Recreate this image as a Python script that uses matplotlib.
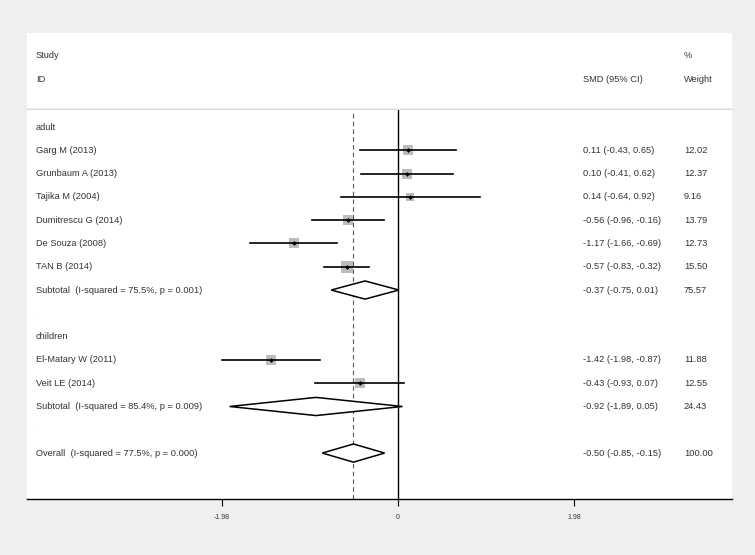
import matplotlib.pyplot as plt
from matplotlib.patches import Rectangle, Polygon
from matplotlib.lines import Line2D

plt.rcParams['font.family'] = ['Liberation Sans', 'DejaVu Sans']

# study level data
studies = ["Garg M (2013)", "Grunbaum A (2013)", "Tajika M (2004)", "Dumitrescu G (2014)",
           "De Souza (2008)", "TAN B (2014)", "El-Matary W (2011)", "Veit LE (2014)"]
smd = [0.11, 0.10, 0.14, -0.56, -1.17, -0.57, -1.42, -0.43]
ci_lo = [-0.43, -0.41, -0.64, -0.96, -1.66, -0.83, -1.98, -0.93]
ci_hi = [0.65, 0.62, 0.92, -0.16, -0.69, -0.32, -0.87, 0.07]
weights = [12.02, 12.37, 9.16, 13.79, 12.73, 15.50, 11.88, 12.55]
study_rows = [1, 2, 3, 4, 5, 6, 10, 11]

# pooled estimates
pooled_labels = ["Subtotal  (I-squared = 75.5%, p = 0.001)",
                 "Subtotal  (I-squared = 85.4%, p = 0.009)",
                 "Overall  (I-squared = 77.5%, p = 0.000)"]
pooled_smd = [-0.37, -0.92, -0.50]
pooled_lo = [-0.75, -1.89, -0.85]
pooled_hi = [0.01, 0.05, -0.15]
pooled_w = [75.57, 24.43, 100.00]
pooled_rows = [7, 12, 14]

groups = ["adult", "children"]
group_rows = [0, 9]
blank_rows = [8, 13]

xticks = [-1.98, 0, 1.98]
xticklabels = ["-1.98", "0", "1.98"]

W, H = 755, 555
fig = plt.figure(figsize=(7.55, 5.55), dpi=100, facecolor='#efefef')

# white header panel
hdr = Rectangle((27 / W, 1 - 108 / H), 705 / W, 75 / H, transform=fig.transFigure,
                facecolor='white', edgecolor='none', zorder=-5)
fig.patches.append(hdr)
fig.lines.append(Line2D([27 / W, 732 / W], [1 - 108.5 / H, 1 - 108.5 / H],
                        transform=fig.transFigure, color='#dcdcdc', lw=1, zorder=-4))

ax = fig.add_axes([27 / W, 1 - 499 / H, 705 / W, 389 / H])
ax.set_facecolor('white')

px = 89.1  # pixels per unit
x0 = 398
ax.set_xlim((27 - x0) / px, (732 - x0) / px)
rh = 23.29
ax.set_ylim((499 - 127) / rh, (110 - 127) / rh)

for s in ['top', 'left', 'right']:
    ax.spines[s].set_visible(False)
ax.spines['bottom'].set_color('black')
ax.spines['bottom'].set_linewidth(1.0)
ax.set_yticks([])
ax.set_xticks(xticks)
ax.set_xticklabels(xticklabels, fontsize=5, color='#333333')
ax.tick_params(axis='x', length=5, width=0.8, pad=6)

txt = '#333333'
fs = 6.7
xl = (36 - x0) / px
xs = (583 - x0) / px
xw = (684 - x0) / px

# header
ax.text(xl, (55 - 127) / rh, "Study", fontsize=fs, color=txt, va='center', clip_on=False)
ax.text(xl, (79 - 127) / rh, "ID", fontsize=fs, color=txt, va='center', clip_on=False)
ax.text(xs, (79 - 127) / rh, "SMD (95% CI)", fontsize=fs, color=txt, va='center', clip_on=False)
ax.text(xw, (55 - 127) / rh, "%", fontsize=fs, color=txt, va='center', clip_on=False)
ax.text(xw, (79 - 127) / rh, "Weight", fontsize=fs, color=txt, va='center', clip_on=False)

# reference lines
ax.axvline(0, color='black', lw=1.0, zorder=1)
ax.axvline(pooled_smd[2], color='#555555', lw=0.8, ls=(0, (4, 3)), zorder=1)

for g, r in zip(groups, group_rows):
    ax.text(xl, r, g, fontsize=fs, color=txt, va='center')
for r in blank_rows:
    ax.text(xl, r, ".", fontsize=4, color='#bbbbbb', va='center')

for name, m, lo, hi, w, r in zip(studies, smd, ci_lo, ci_hi, weights, study_rows):
    ax.text(xl, r, name, fontsize=fs, color=txt, va='center')
    ax.plot([lo, hi], [r, r], color='black', lw=1.2, zorder=3)
    ax.scatter([m], [r], marker='s', s=w * 4.5, color='#bcbcbc', zorder=2, linewidths=0)
    ax.scatter([m], [r], marker='D', s=6, color='black', zorder=4, linewidths=0)
    ax.text(xs, r, f"{m:.2f} ({lo:.2f}, {hi:.2f})", fontsize=fs, color=txt, va='center')
    ax.text(xw, r, f"{w:.2f}", fontsize=fs, color=txt, va='center')

dh = 0.39
for name, m, lo, hi, w, r in zip(pooled_labels, pooled_smd, pooled_lo, pooled_hi, pooled_w, pooled_rows):
    ax.text(xl, r, name, fontsize=fs, color=txt, va='center')
    ax.add_patch(Polygon([[lo, r], [m, r - dh], [hi, r], [m, r + dh]], closed=True,
                         facecolor='white', edgecolor='black', lw=1.1, zorder=3))
    ax.text(xs, r, f"{m:.2f} ({lo:.2f}, {hi:.2f})", fontsize=fs, color=txt, va='center')
    ax.text(xw, r, f"{w:.2f}", fontsize=fs, color=txt, va='center')

fig.savefig("out.png", dpi=100, facecolor=fig.get_facecolor())
